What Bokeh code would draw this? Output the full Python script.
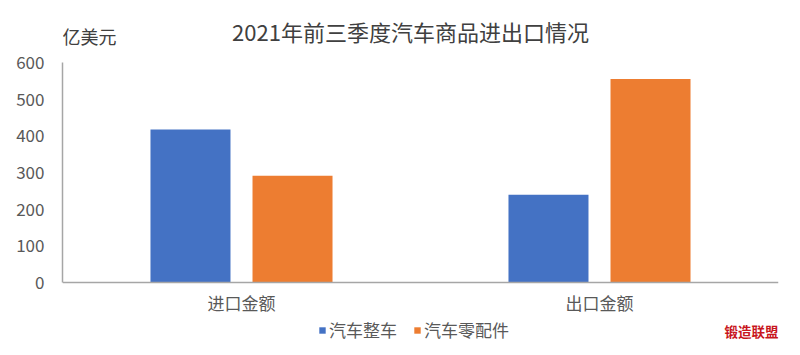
from bokeh.plotting import figure
from bokeh.models import ColumnDataSource, Range1d, Label, Legend, LegendItem, FactorRange, Span
from bokeh.transform import dodge
from bokeh.core.properties import value
from bokeh.embed import file_html
from bokeh.resources import INLINE

categories = ["进口金额", "出口金额"]
series_names = ["汽车整车", "汽车零配件"]
vehicles = [417, 239]
parts = [291, 555]
y_ticks = [0, 100, 200, 300, 400, 500, 600]
title_text = "2021年前三季度汽车商品进出口情况"
unit_text = "亿美元"
logo_text = "锻造联盟"

FONT = "Noto Sans CJK SC"
BLUE = "#4472C4"
ORANGE = "#ED7D31"
TXT = "#595959"
AXIS = "#A6A6A6"

src = ColumnDataSource(dict(cat=categories, veh=vehicles, parts=parts, zero=[0] * len(categories)))

# frame covers full canvas height; 600 sits 62px below the top and 0 sits 73px above the bottom
p = figure(x_range=FactorRange(*categories, range_padding=0), y_range=Range1d(-199.1, 769.1),
           width=800, height=355, output_backend="svg", toolbar_location=None,
           min_border_left=62, min_border_right=22, min_border_top=0, min_border_bottom=0)
p.outline_line_color = None
p.background_fill_color = "white"
p.border_fill_color = "white"
p.xgrid.visible = False
p.ygrid.visible = False
p.xaxis.visible = False

r1 = p.vbar(x=dodge("cat", -0.1425, range=p.x_range), top="veh", width=0.2235, source=src,
            fill_color=BLUE, line_color=None)
r2 = p.vbar(x=dodge("cat", 0.1425, range=p.x_range), top="parts", width=0.2235, source=src,
            fill_color=ORANGE, line_color=None)

# category axis: baseline and labels
p.add_layout(Span(location=0, dimension="width", line_color=AXIS, line_width=1.5))
p.text(x="cat", y="zero", text="cat", source=src, text_font=value(FONT), text_font_size="17px",
       text_color=TXT, text_align="center", text_baseline="top", y_offset=8)

p.yaxis.ticker = y_ticks
p.yaxis.bounds = (0, 600)
p.yaxis.major_tick_line_color = None
p.yaxis.minor_tick_line_color = None
p.yaxis.axis_line_color = AXIS
p.yaxis.axis_line_width = 1.5
p.yaxis.major_label_text_font = FONT
p.yaxis.major_label_text_color = TXT
p.yaxis.major_label_text_font_size = "17px"
p.yaxis.major_label_standoff = 12

legend = Legend(items=[LegendItem(label=series_names[0], renderers=[r1]),
                       LegendItem(label=series_names[1], renderers=[r2])],
                orientation="horizontal", location=(256, 13),
                label_text_font=FONT, label_text_font_size="17px", label_text_color=TXT,
                glyph_width=8, glyph_height=8, spacing=16, label_standoff=3,
                border_line_color=None, background_fill_alpha=0, padding=0, margin=0)
p.add_layout(legend, "center")

p.add_layout(Label(x=348, y=325, x_units="screen", y_units="screen", text=title_text,
                   text_font=FONT, text_font_size="22px", text_color="#404040",
                   text_align="center", text_baseline="middle"))
p.add_layout(Label(x=0, y=320, x_units="screen", y_units="screen", text=unit_text,
                   text_font=FONT, text_font_size="18px", text_color="#404040",
                   text_align="left", text_baseline="middle"))
p.add_layout(Label(x=662, y=25, x_units="screen", y_units="screen", text=logo_text,
                   text_font=FONT, text_font_size="13.5px", text_font_style="bold",
                   text_color="#C8161D", text_align="left", text_baseline="middle"))

open("out.html", "w").write(file_html(p, INLINE))
